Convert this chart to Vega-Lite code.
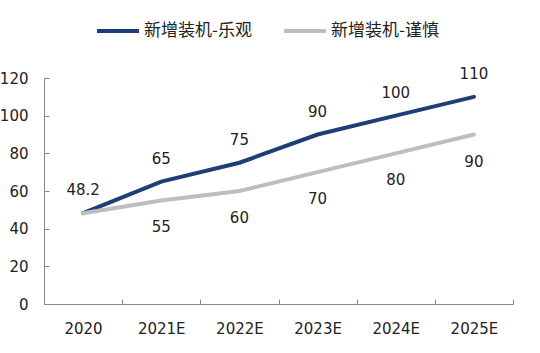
{
  "$schema": "https://vega.github.io/schema/vega-lite/v6.json",
  "autosize": {"type": "none"},
  "width": 469,
  "height": 226,
  "padding": {"left": 44, "top": 78, "right": 27, "bottom": 49},
  "background": "white",
  "config": {"view": {"stroke": null}},
  "data": {"values": [
    {"year": "2020", "series": "新增装机-乐观", "value": 48.2, "label": "48.2"},
    {"year": "2021E", "series": "新增装机-乐观", "value": 65, "label": "65"},
    {"year": "2022E", "series": "新增装机-乐观", "value": 75, "label": "75"},
    {"year": "2023E", "series": "新增装机-乐观", "value": 90, "label": "90"},
    {"year": "2024E", "series": "新增装机-乐观", "value": 100, "label": "100"},
    {"year": "2025E", "series": "新增装机-乐观", "value": 110, "label": "110"},
    {"year": "2020", "series": "新增装机-谨慎", "value": 48.2, "label": ""},
    {"year": "2021E", "series": "新增装机-谨慎", "value": 55, "label": "55"},
    {"year": "2022E", "series": "新增装机-谨慎", "value": 60, "label": "60"},
    {"year": "2023E", "series": "新增装机-谨慎", "value": 70, "label": "70"},
    {"year": "2024E", "series": "新增装机-谨慎", "value": 80, "label": "80"},
    {"year": "2025E", "series": "新增装机-谨慎", "value": 90, "label": "90"}
  ]},
  "encoding": {
    "x": {
      "field": "year", "type": "ordinal", "bandPosition": 0.5,
      "scale": {"type": "band", "paddingInner": 0, "paddingOuter": 0},
      "axis": {
        "title": null, "labelAngle": 0, "tickBand": "extent",
        "domainColor": "#888", "tickColor": "#888", "tickSize": -5,
        "labelFont": "DejaVu Sans", "labelFontSize": 15, "labelColor": "#222",
        "labelPadding": 22
      }
    },
    "y": {
      "field": "value", "type": "quantitative",
      "scale": {"domain": [0, 120], "nice": false},
      "axis": {
        "title": null, "values": [0, 20, 40, 60, 80, 100, 120], "grid": false,
        "domainColor": "#888", "tickColor": "#888", "tickSize": -5,
        "labelFont": "DejaVu Sans", "labelFontSize": 15, "labelColor": "#222",
        "labelPadding": 21
      }
    }
  },
  "layer": [
    {
      "mark": {"type": "line", "strokeWidth": 4, "strokeCap": "round"},
      "encoding": {
        "color": {
          "field": "series", "type": "nominal",
          "scale": {"domain": ["新增装机-乐观", "新增装机-谨慎"], "range": ["#1F3E78", "#BEBEBE"]},
          "legend": {
            "title": null, "orient": "none", "direction": "horizontal",
            "legendX": 51, "legendY": -70,
            "symbolType": "stroke", "symbolSize": 1764, "symbolStrokeWidth": 4,
            "labelFont": "Noto Sans CJK SC", "labelFontSize": 17, "labelColor": "#222",
            "labelOffset": 3, "columnPadding": 24
          }
        },
        "order": {"field": "series"}
      }
    },
    {
      "transform": [{"filter": "datum.series == '新增装机-乐观'"}],
      "mark": {"type": "text", "dy": -23, "font": "DejaVu Sans", "fontSize": 15, "color": "#222"},
      "encoding": {"text": {"field": "label"}}
    },
    {
      "transform": [{"filter": "datum.series == '新增装机-谨慎'"}],
      "mark": {"type": "text", "dy": 27, "font": "DejaVu Sans", "fontSize": 15, "color": "#222"},
      "encoding": {"text": {"field": "label"}}
    }
  ]
}
